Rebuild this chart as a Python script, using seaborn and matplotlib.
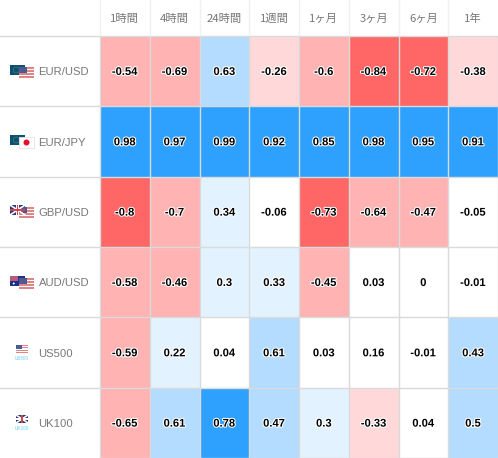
import matplotlib
matplotlib.use("Agg")
import matplotlib.pyplot as plt
import matplotlib.patheffects as pe
from matplotlib.colors import ListedColormap, BoundaryNorm
from matplotlib.patches import Rectangle, Circle
import numpy as np
import pandas as pd
import seaborn as sns

periods = ["1時間", "4時間", "24時間", "1週間", "1ヶ月", "3ヶ月", "6ヶ月", "1年"]
symbols = ["EUR/USD", "EUR/JPY", "GBP/USD", "AUD/USD", "US500", "UK100"]
eur_usd = [-0.54, -0.69, 0.63, -0.26, -0.6, -0.84, -0.72, -0.38]
eur_jpy = [0.98, 0.97, 0.99, 0.92, 0.85, 0.98, 0.95, 0.91]
gbp_usd = [-0.8, -0.7, 0.34, -0.06, -0.73, -0.64, -0.47, -0.05]
aud_usd = [-0.58, -0.46, 0.3, 0.33, -0.45, 0.03, 0, -0.01]
us500 = [-0.59, 0.22, 0.04, 0.61, 0.03, 0.16, -0.01, 0.43]
uk100 = [-0.65, 0.61, 0.78, 0.47, 0.3, -0.33, 0.04, 0.5]
band_colors = ["#FF6666", "#FFB3B3", "#FFD9D9", "#FFFFFF", "#E3F2FF", "#B3DCFF", "#2EA1FF"]
band_edges = [-1, -0.705, -0.395, -0.2, 0.2, 0.4, 0.7, 1]

df = pd.DataFrame([eur_usd, eur_jpy, gbp_usd, aud_usd, us500, uk100], index=symbols, columns=periods)

W, H = 498, 458
GRID = "#DADADA"
HEAD = "#F0F0F0"
TXT = "#777777"
plt.rcParams["font.family"] = ["Liberation Sans", "Noto Sans CJK JP", "DejaVu Sans"]
px = 72 / 100
LW = 1.0

fig = plt.figure(figsize=(W / 100, H / 100), dpi=100)
ax = fig.add_axes([100 / W, 0, (W - 100) / W, (H - 36) / H])
cmap = ListedColormap(band_colors)
norm = BoundaryNorm(band_edges, cmap.N)
sns.heatmap(df, ax=ax, cmap=cmap, norm=norm, cbar=False, annot=True, fmt="g",
            linewidths=0.0, linecolor=GRID,
            annot_kws={"fontsize": 11.2 * px, "fontweight": "bold", "color": "black",
                       "family": "Liberation Sans",
                       "path_effects": [pe.withStroke(linewidth=1.5, foreground="white")]})
ax.set_xlabel("")
ax.set_ylabel("")
ax.tick_params(length=0, top=False, bottom=False, left=False, labelbottom=False, labelleft=False)
row_h = (H - 36) / len(symbols)
for t in ax.texts:
    x0, y0 = t.get_position()
    t.set_position((x0, y0 + 0.8 / row_h))
    t.set_zorder(10)

# seaborn's own cell axes carry the separators, so they stay tied to the data grid
ax.hlines(np.arange(len(symbols) + 1), 0, len(periods), color=GRID, lw=LW, clip_on=False, zorder=6)
ax.vlines(np.arange(len(periods) + 1), 0, len(symbols), color=GRID, lw=LW, clip_on=False, zorder=6)

# overlay in pixel coordinates for header, row labels, flags
ov = fig.add_axes([0, 0, 1, 1], zorder=5)
ov.set_xlim(0, W)
ov.set_ylim(H, 0)
ov.axis("off")
col_w = (W - 100) / len(periods)
for i, p in enumerate(periods):
    ov.text(100 + col_w * (i + 0.5), 19, p, ha="center", va="center", color=TXT,
            fontsize=11.3 * px, family=["Noto Sans CJK JP", "DejaVu Sans"])
    ov.plot([100 + col_w * i] * 2, [0, 35], color=HEAD, lw=LW)
for j in range(len(symbols)):
    ov.plot([0, 100], [36 + row_h * j] * 2, color=GRID, lw=LW)

for j, s in enumerate(symbols):
    ov.text(38.5, 36 + row_h * j + 36.2, s, ha="left", va="center", color=TXT, fontsize=11.2 * px)


def us(x, y, w=15, h=11):
    ov.add_patch(Rectangle((x, y), w, h, fc="white", ec="none"))
    for k in range(0, 7, 2):
        ov.add_patch(Rectangle((x, y + k * h / 7), w, h / 7, fc="#E08585", ec="none"))
    ov.add_patch(Rectangle((x, y), w * 0.5, h * 0.5, fc="#4F5A8F", ec="none"))


def eu(x, y, w=15, h=10):
    ov.add_patch(Rectangle((x, y), w, h, fc="#0E4F78", ec="none"))
    ov.add_patch(Circle((x + w * 0.42, y + h * 0.5), 3, fc="none", ec="#3E7A55", lw=0.6))


def gb(x, y, w=15, h=10):
    ov.add_patch(Rectangle((x, y), w, h, fc="#2B3A7E", ec="none"))
    ov.plot([x, x + w], [y, y + h], color="white", lw=1.2)
    ov.plot([x, x + w], [y + h, y], color="white", lw=1.2)
    ov.add_patch(Rectangle((x + w * 0.4, y), w * 0.2, h, fc="white", ec="none", zorder=3))
    ov.add_patch(Rectangle((x, y + h * 0.38), w, h * 0.24, fc="white", ec="none", zorder=3))
    ov.add_patch(Rectangle((x + w * 0.45, y), w * 0.1, h, fc="#D6404A", ec="none", zorder=4))
    ov.add_patch(Rectangle((x, y + h * 0.44), w, h * 0.12, fc="#D6404A", ec="none", zorder=4))


def au(x, y, w=15, h=10):
    ov.add_patch(Rectangle((x, y), w, h, fc="#1E2F8C", ec="none"))
    ov.add_patch(Rectangle((x, y), w * 0.5, h * 0.5, fc="#B85A78", ec="none"))
    ov.add_patch(Circle((x + w * 0.75, y + h * 0.5), 1, fc="white", ec="none"))
    ov.add_patch(Circle((x + w * 0.25, y + h * 0.75), 1, fc="white", ec="none"))


def jp(x, y, w=15, h=11):
    ov.add_patch(Rectangle((x, y), w, h, fc="white", ec="#E4E4E4", lw=0.6))
    ov.add_patch(Circle((x + w / 2, y + h / 2), 3, fc="#E8112D", ec="none"))


eu(10, 65); us(19, 67)
eu(10, 135); jp(19, 137)
gb(10, 205); us(19, 207)
au(10, 276); us(19, 278)
us(16, 345, 12, 8)
ov.text(22, 358, "US500", ha="center", va="center", color="#9ADFF5", fontsize=4.6 * px, fontweight="bold")
gb(16, 415, 12, 8)
ov.text(22, 428, "UK100", ha="center", va="center", color="#9ADFF5", fontsize=4.6 * px, fontweight="bold")

fig.savefig("out.png", dpi=100, facecolor="white")
